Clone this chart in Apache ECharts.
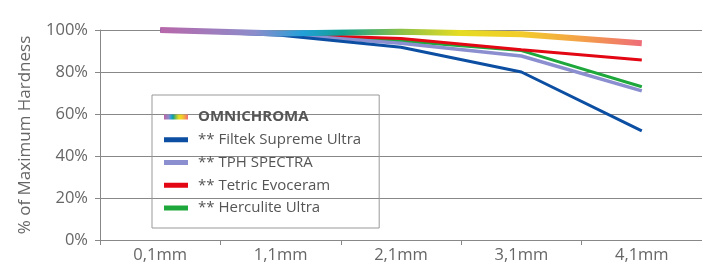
<!DOCTYPE html>
<html>
<head>
<meta charset="utf-8">
<style>
html,body{margin:0;padding:0;background:#fff;}
#c{width:702px;height:268px;}
</style>
<script src="https://cdn.jsdelivr.net/npm/echarts@6/dist/echarts.min.js"></script>
</head>
<body>
<div id="c"></div>
<script>
var categories = ['0,1mm', '1,1mm', '2,1mm', '3,1mm', '4,1mm'];
var omnichroma = [100, 98.3, 99.2, 98, 93.7];
var filtek = [100, 97.5, 91.8, 80, 52];
var tph = [100, 98, 93.7, 87.6, 71];
var tetric = [100, 97.8, 96, 90.6, 85.7];
var herculite = [100, 98, 94.8, 90.2, 73];
var yTicks = [0, 20, 40, 60, 80, 100];

var seriesNames = ['OMNICHROMA', '** Filtek Supreme Ultra', '** TPH SPECTRA', '** Tetric Evoceram', '** Herculite Ultra'];
var seriesColors = ['#0b4ea2', '#8b8fcf', '#e30613', '#1ea83c'];

var chart = echarts.init(document.getElementById('c'), null, {renderer: 'canvas'});
var grad = new echarts.graphic.LinearGradient(0, 0, 1, 0, [
  {offset: 0, color: '#b966a8'},
  {offset: 0.2, color: '#8c8ccb'},
  {offset: 0.3, color: '#22a0d8'},
  {offset: 0.38, color: '#12a090'},
  {offset: 0.5, color: '#8cc048'},
  {offset: 0.62, color: '#e6dc22'},
  {offset: 0.75, color: '#f2cc2a'},
  {offset: 0.87, color: '#f4a048'},
  {offset: 1, color: '#ee6a7a'}
]);

function lineSeries(name, data, color, width, z) {
  return {
    name: name, type: 'line', data: data, symbol: 'none', z: z,
    lineStyle: {color: color, width: width, cap: 'butt'},
    itemStyle: {color: color},
    emphasis: {disabled: true}
  };
}

var FONT = 'Open Sans';
chart.setOption({
  animation: false,
  grid: {left: 100, right: -2, top: 30, bottom: 28, containLabel: false},
  legend: {
    orient: 'vertical',
    left: 152, top: 95,
    padding: [14, 18, 12, 12],
    borderColor: '#999', borderWidth: 1,
    itemWidth: 24, itemHeight: 5, itemGap: 6.75,
    icon: 'rect',
    data: seriesNames,
    textStyle: {fontFamily: FONT, fontSize: 15, color: '#555', lineHeight: 16, padding: [0, 0, 0, 5],
      rich: {b: {fontFamily: FONT, fontSize: 15, fontWeight: 'bold', color: '#555', lineHeight: 16}}},
    formatter: function (n) { return n === 'OMNICHROMA' ? '{b|' + n + '}' : n; }
  },
  xAxis: {
    type: 'category', data: categories, boundaryGap: true,
    axisLine: {lineStyle: {color: '#888', width: 1}},
    axisTick: {show: true, length: 5, lineStyle: {color: '#888'}},
    axisLabel: {fontFamily: FONT, fontSize: 16.5, color: '#666', margin: 7}
  },
  yAxis: {
    type: 'value', min: 0, max: 100, interval: 20,
    name: '% of Maximum Hardness', nameLocation: 'middle', nameRotate: 90, nameGap: 66,
    nameTextStyle: {fontFamily: FONT, fontSize: 17, color: '#666'},
    axisLine: {show: true, lineStyle: {color: '#888', width: 1}},
    axisTick: {show: true, length: 5, lineStyle: {color: '#888'}},
    splitLine: {show: true, lineStyle: {color: '#888', width: 1}},
    axisLabel: {fontFamily: FONT, fontSize: 16.5, color: '#666', margin: 12,
      formatter: function (v) { return yTicks.indexOf(v) >= 0 ? v + '%' : ''; }}
  },
  series: [
    lineSeries(seriesNames[0], omnichroma, grad, 6, 10),
    lineSeries(seriesNames[1], filtek, seriesColors[0], 3, 5),
    lineSeries(seriesNames[2], tph, seriesColors[1], 3.5, 4),
    lineSeries(seriesNames[3], tetric, seriesColors[2], 3, 3),
    lineSeries(seriesNames[4], herculite, seriesColors[3], 3, 2)
  ]
});
</script>
</body>
</html>
